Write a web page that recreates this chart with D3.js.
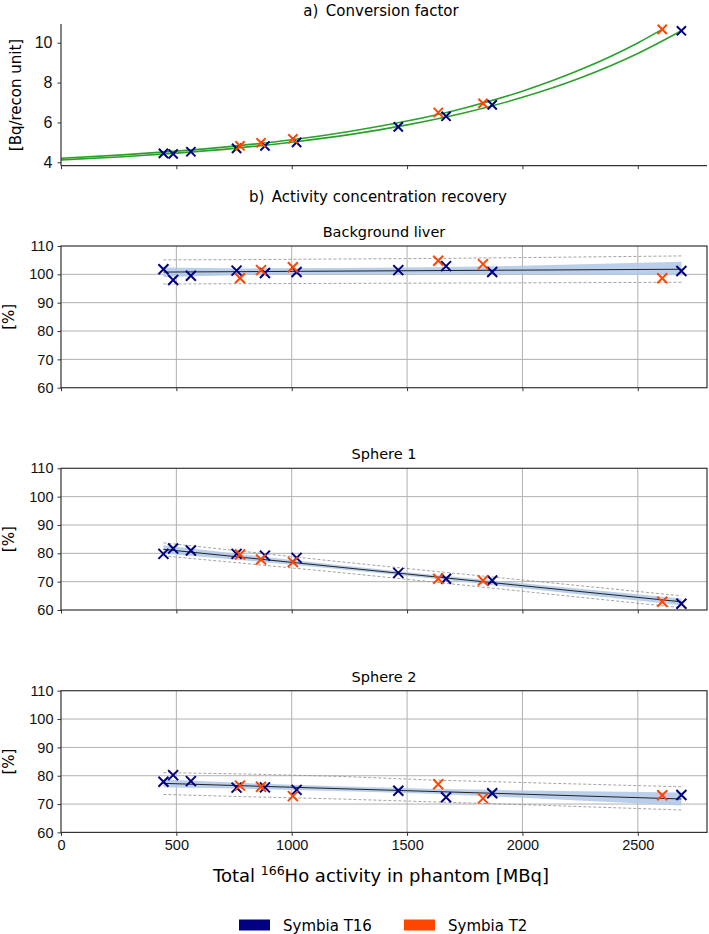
<!DOCTYPE html>
<html>
<head>
<meta charset="utf-8">
<script src="https://cdn.jsdelivr.net/npm/d3@7"></script>
<style>
  body { margin: 0; background: #fff; }
  svg { font-family: "DejaVu Sans", sans-serif; display: block; }
</style>
</head>
<body>
<div id="chart"></div>
<script>
// measured points, x = total activity [MBq]
const xT16 = [444, 486, 563, 761, 884, 1021, 1462, 1669, 1869, 2689];
const xT2 = [776, 867, 1005, 1635, 1829, 2606];

// a) conversion factor [Bq/recon unit]
const convT16 = [4.45, 4.42, 4.53, 4.70, 4.82, 5.00, 5.78, 6.31, 6.88, 10.60];
const convT2 = [4.83, 4.98, 5.18, 6.50, 6.96, 10.67];
// fitted curves
const curveXT2 = [0, 250, 500, 750, 1000, 1250, 1500, 1750, 2000, 2250, 2500, 2606];
const curveT2 = [4.20, 4.36, 4.56, 4.81, 5.13, 5.55, 6.07, 6.73, 7.57, 8.64, 9.99, 10.67];
const curveXT16 = [0, 250, 500, 750, 1000, 1250, 1500, 1750, 2000, 2250, 2500, 2689];
const curveT16 = [4.12, 4.27, 4.46, 4.70, 5.01, 5.39, 5.88, 6.49, 7.26, 8.23, 9.46, 10.60];

// b) recovery [%]
const panelTitles = ['Background liver', 'Sphere 1', 'Sphere 2'];
const recT16 = [
  [101.8, 98.0, 99.5, 101.3, 100.5, 100.8, 101.5, 102.9, 100.8, 101.2],
  [79.8, 81.7, 81.0, 79.8, 79.2, 78.4, 73.1, 71.0, 70.4, 62.2],
  [77.9, 80.2, 78.1, 75.8, 75.9, 75.0, 74.7, 72.4, 73.8, 73.2]
];
const recT2 = [
  [98.6, 101.5, 102.5, 104.8, 103.6, 98.6],
  [79.6, 77.8, 76.9, 71.0, 70.4, 62.9],
  [76.5, 76.1, 72.8, 77.0, 72.0, 73.1]
];
// regression line, confidence band and prediction interval
const fitX = [444, 2689];
const fitY = [[100.8, 101.8], [81.4, 62.9], [77.3, 71.8]];
const bandX = [444, 800, 1200, 1600, 2000, 2689];
const bandLo = [
  [99.1, 99.8, 100.1, 100.2, 100.1, 99.7],
  [79.95, 77.47, 74.47, 71.17, 67.68, 61.7],
  [75.9, 75.4, 74.65, 73.6, 72.2, 69.5]
];
const bandHi = [
  [102.4, 102.1, 102.2, 102.5, 103.0, 104.4],
  [82.85, 79.47, 75.87, 72.57, 69.48, 64.1],
  [78.7, 77.4, 76.25, 75.4, 74.8, 74.1]
];
const predLo = [
  [96.6, 96.7, 96.8, 96.9, 97.0, 97.2],
  [79.1, 76.4, 73.3, 70.0, 66.6, 60.8],
  [73.4, 72.6, 71.8, 70.8, 69.8, 67.9]
];
const predHi = [
  [105.1, 105.2, 105.4, 105.6, 105.9, 106.5],
  [83.7, 80.6, 77.1, 73.8, 70.6, 65.0],
  [81.1, 80.6, 79.8, 78.5, 77.6, 76.1]
];

const xTicks = [0, 500, 1000, 1500, 2000, 2500];
const convTicks = [4, 6, 8, 10];
const recTicks = [60, 70, 80, 90, 100, 110];
const seriesNames = ['Symbia T16', 'Symbia T2'];
const colT16 = '#000080', colT2 = '#ff4500';

const W = 709, H = 934;
const svg = d3.select('#chart').append('svg')
  .attr('width', W).attr('height', H);

const x = d3.scaleLinear().domain([0, 2800]).range([61, 707]);

function crosses(g, xs, ys, y, color, s) {
  g.selectAll(null)
    .data(xs.map((v, i) => [v, ys[i]]))
    .enter().append('path')
    .attr('d', d => `M${x(d[0]) - s},${y(d[1]) - s}L${x(d[0]) + s},${y(d[1]) + s}M${x(d[0]) - s},${y(d[1]) + s}L${x(d[0]) + s},${y(d[1]) - s}`)
    .attr('stroke', color)
    .attr('stroke-width', 2)
    .attr('fill', 'none');
}

function styleAxis(g, size) {
  g.select('.domain').remove();
  g.selectAll('.tick line').attr('stroke', '#333').attr('stroke-width', 1);
  g.selectAll('.tick text').attr('fill', '#111').style('font-size', size + 'px');
}

// ---- a) conversion factor
const yA = d3.scaleLinear().domain([3.83, 10.94]).range([165.7, 24]);
const gA = svg.append('g');

svg.append('text')
  .attr('x', 381).attr('y', 15.5)
  .attr('text-anchor', 'middle')
  .style('font-size', '15px')
  .text('a)\u2002Conversion factor');

const lineA = d3.line().x(d => x(d[0])).y(d => yA(d[1])).curve(d3.curveMonotoneX);
[[curveXT2, curveT2], [curveXT16, curveT16]].forEach(c => {
  gA.append('path')
    .attr('d', lineA(c[0].map((v, i) => [v, c[1][i]])))
    .attr('fill', 'none')
    .attr('stroke', '#2ca02c')
    .attr('stroke-width', 1.6);
});
crosses(gA, xT16, convT16, yA, colT16, 4.6);
crosses(gA, xT2, convT2, yA, colT2, 4.6);

const axLA = gA.append('g').attr('transform', 'translate(61,0)')
  .call(d3.axisLeft(yA).tickValues(convTicks).tickSize(3.5).tickPadding(5).tickFormat(d3.format('d')));
styleAxis(axLA, 16);
const axBA = gA.append('g').attr('transform', 'translate(0,165.7)')
  .call(d3.axisBottom(x).tickValues(xTicks).tickSize(3.5).tickFormat(''));
styleAxis(axBA, 14);
gA.append('line').attr('x1', 61).attr('x2', 61).attr('y1', 24).attr('y2', 165.7)
  .attr('stroke', '#333').attr('stroke-width', 1.2);
gA.append('line').attr('x1', 61).attr('x2', 707).attr('y1', 165.7).attr('y2', 165.7)
  .attr('stroke', '#333').attr('stroke-width', 1.2);
gA.append('text')
  .attr('transform', 'translate(20.5,95) rotate(-90)')
  .attr('text-anchor', 'middle')
  .style('font-size', '15px')
  .text('[Bq/recon unit]');

// ---- b) recovery panels
svg.append('text')
  .attr('x', 378).attr('y', 202)
  .attr('text-anchor', 'middle')
  .style('font-size', '15px')
  .text('b)\u2002Activity concentration recovery');

const panelTops = [246, 468.3, 690.7];
const panelH = 141.7;

panelTops.forEach((top, p) => {
  const y = d3.scaleLinear().domain([60, 110]).range([top + panelH, top]);
  const g = svg.append('g');

  // grid
  g.selectAll('.vg').data(xTicks.slice(1)).enter().append('line')
    .attr('x1', d => x(d)).attr('x2', d => x(d))
    .attr('y1', top).attr('y2', top + panelH)
    .attr('stroke', '#b0b0b0').attr('stroke-width', 1);
  g.selectAll('.hg').data(recTicks.slice(1, -1)).enter().append('line')
    .attr('x1', 61).attr('x2', 707)
    .attr('y1', d => y(d)).attr('y2', d => y(d))
    .attr('stroke', '#b0b0b0').attr('stroke-width', 1);

  // confidence band
  const area = d3.area()
    .x((d, i) => x(bandX[i]))
    .y0(d => y(d[0])).y1(d => y(d[1]));
  g.append('path')
    .attr('d', area(bandLo[p].map((v, i) => [v, bandHi[p][i]])))
    .attr('fill', '#aec7e8')
    .attr('opacity', 0.85);

  // prediction interval
  const ln = d3.line().x((d, i) => x(bandX[i])).y(d => y(d));
  [predLo[p], predHi[p]].forEach(arr => {
    g.append('path')
      .attr('d', ln(arr))
      .attr('fill', 'none')
      .attr('stroke', '#8c8c8c')
      .attr('stroke-width', 0.8)
      .attr('stroke-dasharray', '3,2');
  });

  // regression
  g.append('line')
    .attr('x1', x(fitX[0])).attr('x2', x(fitX[1]))
    .attr('y1', y(fitY[p][0])).attr('y2', y(fitY[p][1]))
    .attr('stroke', '#222').attr('stroke-width', 1);

  crosses(g, xT16, recT16[p], y, colT16, 5);
  crosses(g, xT2, recT2[p], y, colT2, 5);

  const axL = g.append('g').attr('transform', 'translate(61,0)')
    .call(d3.axisLeft(y).tickValues(recTicks).tickSize(3.5).tickPadding(4));
  styleAxis(axL, 14.5);
  const axB = g.append('g').attr('transform', `translate(0,${top + panelH})`)
    .call(d3.axisBottom(x).tickValues(xTicks).tickSize(3.5).tickPadding(4)
      .tickFormat(p === 2 ? d3.format('d') : ''));
  styleAxis(axB, 14.5);

  g.append('rect')
    .attr('x', 61).attr('y', top).attr('width', 646).attr('height', panelH)
    .attr('fill', 'none').attr('stroke', '#333').attr('stroke-width', 1.2);

  g.append('text')
    .attr('x', 384).attr('y', top - 9)
    .attr('text-anchor', 'middle')
    .style('font-size', '14.5px')
    .text(panelTitles[p]);

  g.append('text')
    .attr('transform', `translate(13.5,${top + panelH / 2}) rotate(-90)`)
    .attr('text-anchor', 'middle')
    .style('font-size', '15px')
    .text('[%]');
});

// x label
const xl = svg.append('text')
  .attr('x', 381).attr('y', 882)
  .attr('text-anchor', 'middle')
  .style('font-size', '18px');
xl.append('tspan').text('Total ');
xl.append('tspan').attr('dy', -7).style('font-size', '12.5px').text('166');
xl.append('tspan').attr('dy', 7).text('Ho activity in phantom [MBq]');

// legend
const legX = [239, 404];
[colT16, colT2].forEach((c, i) => {
  svg.append('rect')
    .attr('x', legX[i]).attr('y', 919.5).attr('width', 31).attr('height', 11)
    .attr('fill', c);
  svg.append('text')
    .attr('x', legX[i] + 44).attr('y', 930.5)
    .style('font-size', '15px')
    .text(seriesNames[i]);
});
</script>
</body>
</html>
